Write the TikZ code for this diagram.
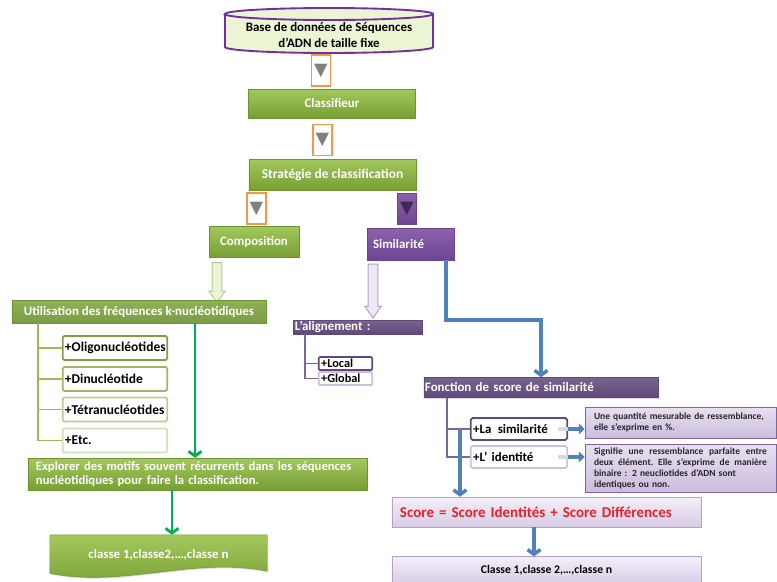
\documentclass[tikz,border=0pt]{standalone}
\usepackage{fontspec}
\setmainfont{Carlito}
\newfontfamily\trifont{DejaVu Sans}
\usepackage{tikz}
\usetikzlibrary{arrows.meta, shapes.arrows, shadows, backgrounds}

\definecolor{gtop}{HTML}{A3C85D}
\definecolor{gbot}{HTML}{779F34}
\definecolor{gline}{HTML}{6E9331}
\definecolor{uttop}{HTML}{8FB158}
\definecolor{utbot}{HTML}{7A9C44}
\definecolor{vtop}{HTML}{8C62AE}
\definecolor{vbot}{HTML}{6C4490}
\definecolor{vdark}{HTML}{3F2A55}
\definecolor{dviolet}{HTML}{5F497A}
\definecolor{ltop}{HTML}{F3EFF8}
\definecolor{lbot}{HTML}{D8CDE6}
\definecolor{lline}{HTML}{B3A2C7}
\definecolor{dtop}{HTML}{E8E0F1}
\definecolor{dbot}{HTML}{CBBDDE}
\definecolor{mviolet}{HTML}{8064A2}
\definecolor{pale}{HTML}{CCC1DA}
\definecolor{bleu}{HTML}{4F81BD}
\definecolor{vert}{HTML}{00B050}
\definecolor{orangeline}{HTML}{F79646}
\definecolor{dbfill}{HTML}{EBF5D3}
\definecolor{dbline}{HTML}{7030A0}
\definecolor{leafa}{HTML}{809E45}
\definecolor{leafb}{HTML}{9BB862}
\definecolor{leafc}{HTML}{B8CE91}
\definecolor{leafd}{HTML}{D1E0B6}
\definecolor{gtree}{HTML}{9BBB59}
\definecolor{ltgreen}{HTML}{EBF3D8}
\definecolor{ltgreenline}{HTML}{B5CC86}
\definecolor{ltviolet}{HTML}{EDE8F3}
\definecolor{scorered}{HTML}{E5232D}

\begin{document}
\begin{tikzpicture}[x=0.03cm, y=-0.03cm,
    greenbox/.style={rectangle, top color=gtop, bottom color=gbot, draw=gline, line width=0.4pt, text=white, inner sep=0pt, font=\bfseries\fontsize{11}{13.5}\selectfont, drop shadow={opacity=0.3, shadow xshift=0.8pt, shadow yshift=-1pt}},
    violetbox/.style={greenbox, top color=vtop, bottom color=vbot, draw=vbot},
    darkbox/.style={greenbox, top color=dviolet!85!white, bottom color=dviolet, draw=dviolet},
    lilacbox/.style={greenbox, top color=ltop, bottom color=lbot, draw=lline, text=black},
    notebox/.style={greenbox, top color=dtop, bottom color=dbot, draw=mviolet, text=black!85, font=\bfseries\fontsize{8.1}{9.4}\selectfont, text width=5.19cm, inner xsep=0.27cm, align=left},
    arrowbox/.style={rectangle, draw=orangeline, line width=1.6pt, fill=white, minimum width=0.57cm, minimum height=0.93cm, inner sep=0pt, text=gray, font=\trifont\fontsize{15}{15}\selectfont},
    leaf/.style={rectangle, rounded corners=1.5pt, fill=white, line width=1.5pt, text=black, align=left, inner xsep=2pt, text width=3.0cm, minimum height=0.72cm, font=\bfseries\fontsize{11.5}{13}\selectfont},
    hollow/.style={single arrow, line width=0.8pt, inner sep=0.13cm, single arrow head extend=0.1cm, single arrow tip angle=70, rotate=-90, anchor=tail},
    gtreeline/.style={draw=gtree, line width=1.5pt},
    vtreeline/.style={draw=mviolet, line width=1.5pt},
    garrow/.style={draw=vert, line width=2.4pt, -{Straight Barb[length=4pt, width=11pt]}},
    barrow/.style={draw=bleu, line width=3pt, -{Straight Barb[length=4pt, width=11pt]}},
    sarrow/.style={draw=bleu, line width=3.5pt, -{Triangle[length=5pt, width=9pt]}}]
    \useasboundingbox (0,0) rectangle (777,581);

    \path[draw=dbline, line width=1.6pt, fill=dbfill] (225,14) -- (225,47) arc[start angle=180, end angle=360, x radius=3.12cm, y radius=0.18cm] -- (433,14) arc[start angle=0, end angle=180, x radius=3.12cm, y radius=0.18cm] -- cycle;
    \draw[dbline, line width=1.6pt] (225,14) arc[start angle=180, end angle=360, x radius=3.12cm, y radius=0.18cm];
    \node (base) [font=\bfseries\fontsize{11}{13.5}\selectfont, align=center] at (329,35) {Base de données de Séquences\\d’ADN de taille fixe};

    \node (fl1) [arrowbox] at (321,70.5) {▼};
    \node (classif) [greenbox, minimum width=5.01cm, minimum height=0.87cm] at (332,103.5) {Classifieur};
    \node (fl2) [arrowbox] at (322.5,140) {▼};
    \node (strat) [greenbox, minimum width=5.01cm, minimum height=0.93cm, font=\bfseries\fontsize{11.5}{13.5}\selectfont] at (332.5,174.5) {Stratégie de classification};
    \node (fl3) [arrowbox] at (256.5,208.5) {▼};
    \node (fl4) [arrowbox, draw=vbot, line width=0.6pt, top color=vtop, bottom color=vbot, text=vdark] at (407,208.5) {▼};
    \node (compo) [greenbox, minimum width=2.7cm, minimum height=0.93cm] at (254,241.5) {Composition};
    \node (simil) [violetbox, text width=2.25cm, inner xsep=0.18cm, align=left, minimum height=0.96cm] at (410.5,244) {Similarité};

    \node (cfleche) [hollow, fill=ltgreen, draw=ltgreenline, minimum height=1.2cm] at ([xshift=-1.11cm, yshift=-0.15cm]compo.south) {};
    \node (sfleche) [hollow, fill=ltviolet, draw=lline, minimum height=1.62cm] at ([xshift=-1.125cm, yshift=-0.1cm]simil.south) {};

    \node (util) [greenbox, top color=uttop, bottom color=utbot, minimum width=7.62cm, minimum height=0.69cm, font=\bfseries\fontsize{11}{12}\selectfont] at (139,311.5) {Utilisation des fréquences k-nucléotidiques};
    \node (oligo) [leaf, draw=leafa] at (115,348) {+Oligonucléotides};
    \node (dinu) [leaf, draw=leafb] at (115,379) {+Dinucléotide};
    \node (tetra) [leaf, draw=leafc] at (115,409.5) {+Tétranucléotides};
    \node (etc) [leaf, draw=leafd] at (115,440.5) {+Etc.};
    \node (explorer) [greenbox, text width=9.69cm, inner xsep=0.24cm, align=left, minimum height=0.96cm, font=\bfseries\fontsize{10.8}{12.5}\selectfont] at (197.5,474) {Explorer des motifs souvent récurrents dans les séquences\\nucléotidiques pour faire la classification.};
    \node (classe1) [minimum width=6.51cm, minimum height=1.2cm, inner ysep=0pt, text=white, font=\bfseries\fontsize{11}{12}\selectfont] at (158.5,555) {classe 1,classe2,…,classe n};
    \begin{scope}[on background layer]
        \path[top color=gtop, bottom color=gbot, draw=gline, line width=0.4pt, drop shadow={opacity=0.3, shadow xshift=0.8pt, shadow yshift=-1pt}] (classe1.north west) -- (classe1.north east) -- ([yshift=0.12cm]classe1.south east) .. controls +(-2.2cm,0.45cm) and +(2.2cm,-0.45cm) .. ([yshift=0.06cm]classe1.south west) -- cycle;
    \end{scope}

    \node (alignement) [darkbox, text width=3.75cm, inner xsep=0.06cm, align=left, minimum height=0.42cm, font=\bfseries\fontsize{11}{11}\selectfont] at (357.5,327) {L’alignement :};
    \node (local) [leaf, draw=dviolet, text width=1.46cm, minimum height=0.39cm, inner ysep=0pt, rounded corners=1pt, font=\bfseries\fontsize{10.5}{10}\selectfont] at (345.5,363.5) {+Local};
    \node (global) [leaf, draw=pale, text width=1.46cm, minimum height=0.39cm, inner ysep=0pt, rounded corners=1pt, font=\bfseries\fontsize{10.5}{10}\selectfont] at (345.5,378.5) {+Global};

    \node (fonction) [darkbox, text width=6.96cm, inner xsep=0.03cm, align=left, minimum height=0.6cm, font=\bfseries\fontsize{11}{12}\selectfont] at (541,387.5) {Fonction de score de similarité};
    \node (lasim) [leaf, draw=dviolet, text width=2.75cm, minimum height=0.66cm, font=\bfseries\fontsize{11}{12}\selectfont] at (519,429) {+La\enspace similarité};
    \node (ident) [leaf, draw=pale, text width=2.75cm, minimum height=0.66cm, font=\bfseries\fontsize{11}{12}\selectfont] at (519,457) {+L’ identité};
    \node (desc1) [notebox, minimum height=0.93cm] at (680.5,422.5) {Une quantité mesurable de ressemblance,\\elle s’exprime en \%.};
    \node (desc2) [notebox, minimum height=1.44cm] at (680.5,468) {\makebox[\hsize]{Signifie\hfill une\hfill ressemblance\hfill parfaite\hfill entre}\\\makebox[\hsize]{deux\hfill élément.\hfill Elle\hfill s’exprime\hfill de\hfill manière}\\binaire : 2 neucliotides d’ADN sont\\identiques ou non.};
    \node (score) [lilacbox, text=scorered, text width=8.79cm, inner xsep=0.24cm, align=left, minimum height=0.9cm, font=\bfseries\fontsize{12.8}{15}\selectfont] at (546.5,512) {Score = Score Identités + Score Différences};
    \node (classe2) [lilacbox, minimum width=9.27cm, minimum height=0.8cm, font=\bfseries\fontsize{10}{12}\selectfont] at (546.5,570) {Classe 1,classe 2,…,classe n};

    \draw[gtreeline] ([xshift=0.78cm]util.south west) |- (oligo.west)
        ([xshift=0.78cm]util.south west) |- (dinu.west)
        ([xshift=0.78cm]util.south west) |- (tetra.west)
        ([xshift=0.78cm]util.south west) |- (etc.west);
    \draw[vtreeline] ([xshift=0.36cm]alignement.south west) |- (local.west)
        ([xshift=0.36cm]alignement.south west) |- (global.west);
    \draw[vtreeline] ([xshift=0.69cm]fonction.south west) |- (lasim.west)
        ([xshift=0.69cm]fonction.south west) |- (ident.west);

    \draw[garrow] ([xshift=1.68cm]util.south) coordinate (g1) -- (g1 |- explorer.north);
    \draw[garrow] ([xshift=-0.765cm]explorer.south) coordinate (g2) -- (g2 |- classe1.north);
    \draw[barrow] ([xshift=1.065cm]simil.south) -- ++(0,-1.8cm) -| (fonction.north);
    \draw[barrow] ([xshift=-0.3cm]lasim.west) coordinate (b1) -- (b1 |- score.north);
    \draw[barrow] ([xshift=-0.375cm]score.south) coordinate (b2) -- (b2 |- classe2.north);
    \draw[black!15, line width=3.5pt] ([xshift=-0.3cm]lasim.east) -- (lasim.east);
    \draw[black!15, line width=3.5pt] ([xshift=-0.3cm]ident.east) -- (ident.east);
    \draw[sarrow] (lasim.east) -- (lasim.east -| desc1.west);
    \draw[sarrow] (ident.east) -- (ident.east -| desc2.west);
\end{tikzpicture}
\end{document}
